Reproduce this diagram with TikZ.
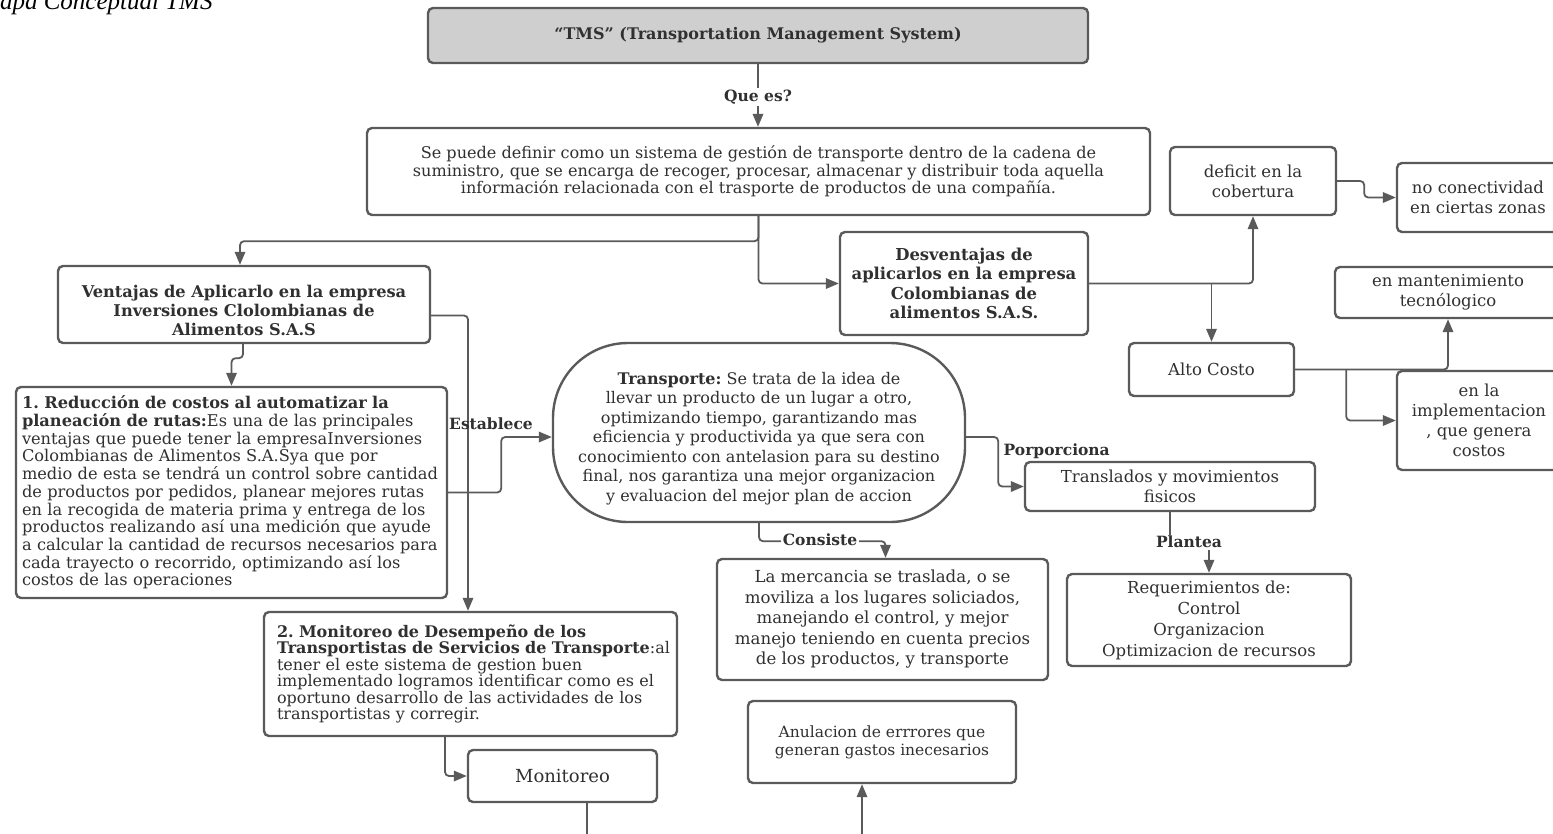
\documentclass[tikz,border=0pt]{standalone}
\usepackage{fontspec}
\setmainfont{DejaVu Serif}
\newfontfamily\capfont{Liberation Serif}
\usetikzlibrary{arrows.meta,calc}
\definecolor{edge}{HTML}{5A5A5A}
\definecolor{ink}{HTML}{303030}
\definecolor{headfill}{HTML}{CFCFCF}
\newcommand{\fs}[2]{\fontsize{#1}{#2}\selectfont}
% extra room above the first line, pushes a centred block down a little
\newcommand{\toppad}[1]{\rule{0pt}{#1}}
\frenchspacing

\begin{document}
\begin{tikzpicture}[x=1pt,y=-1pt,
  box/.style={draw=edge, line width=2.4pt, rounded corners=5pt, fill=white,
              text=ink, inner sep=0pt, align=center},
  conn/.style={draw=edge, line width=1.8pt, rounded corners=4pt,
               -{Triangle[length=13pt,width=10.5pt]}},
  plain/.style={draw=edge, line width=1.8pt, rounded corners=4pt},
  lbl/.style={font=\bfseries\fs{15.5}{18}, text=ink, inner sep=1.5pt}
]
\clip (0,0) rectangle (1553,833);
\useasboundingbox (0,0) rectangle (1553,833);

% caption at the top left
\node[anchor=base west, inner sep=0pt, font=\capfont\itshape\fs{25}{29}] (caption)
  at (-21,9.5) {Mapa Conceptual TMS};

% ---------- nodes ----------
\node[box, fill=headfill, minimum width=660pt, minimum height=55pt,
      font=\bfseries\fs{16}{19}] (title) at (758,35.5)
  {“TMS” (Transportation Management System)};

\node[box, minimum width=783pt, minimum height=87pt, font=\fs{16.1}{17.5}] (def)
  at (758.5,171.5)
  {Se puede definir como un sistema de gestión de transporte dentro de la cadena de\\
   suministro, que se encarga de recoger, procesar, almacenar y distribuir toda aquella\\
   información relacionada con el trasporte de productos de una compañía.};

\node[box, minimum width=372pt, minimum height=77pt, font=\bfseries\fs{16.2}{19}] (vent)
  at (244,304.5)
  {\toppad{24pt}Ventajas de Aplicarlo en la empresa\\Inversiones Clolombianas de\\Alimentos S.A.S};

\node[box, minimum width=431pt, minimum height=211pt, text width=419pt, align=left,
      font=\fs{16.2}{17.7}] (box1) at (231.5,492.5)
  {\textbf{1. Reducción de costos al automatizar la}\\
   \textbf{planeación de rutas:}Es una de las principales\\
   ventajas que puede tener la empresaInversiones\\
   Colombianas de Alimentos S.A.Sya que por\\
   medio de esta se tendrá un control sobre cantidad\\
   de productos por pedidos, planear mejores rutas\\
   en la recogida de materia prima y entrega de los\\
   productos realizando así una medición que ayude\\
   a calcular la cantidad de recursos necesarios para\\
   cada trayecto o recorrido, optimizando así los\\
   costos de las operaciones};

\node[box, minimum width=413pt, minimum height=124pt, text width=387pt, align=left,
      font=\fs{16}{16.5}] (box2) at (470.5,674)
  {\mbox{\textbf{2. Monitoreo de Desempeño de los}}\\
   \mbox{\textbf{Transportistas de Servicios de Transporte}:al}\\
   \mbox{tener el este sistema de gestion buen}\\
   \mbox{implementado logramos identificar como es el}\\
   \mbox{oportuno desarrollo de las actividades de los}\\
   \mbox{transportistas y corregir.}};

\node[box, minimum width=189pt, minimum height=52pt, font=\fs{18}{21}] (mon)
  at (562.5,776) {Monitoreo};

\node[box, rounded corners=75pt, minimum width=412pt, minimum height=179pt,
      font=\fs{16}{19.5}] (trans) at (759,432.5)
  {\toppad{24.5pt}\textbf{Transporte:} Se trata de la idea de\\
   llevar un producto de un lugar a otro,\\
   optimizando tiempo, garantizando mas\\
   eficiencia y productivida ya que sera con\\
   conocimiento con antelasion para su destino\\
   final, nos garantiza una mejor organizacion\\
   y evaluacion del mejor plan de accion};

\node[box, minimum width=248pt, minimum height=103pt, font=\bfseries\fs{16.4}{19.3}] (desv)
  at (964,283.5)
  {Desventajas de\\aplicarlos en la empresa\\Colombianas de\\alimentos S.A.S.};

\node[box, minimum width=166pt, minimum height=68pt, font=\fs{16.5}{20}] (deficit)
  at (1253,181) {deficit en la\\cobertura};

\node[box, minimum width=162pt, minimum height=69pt, font=\fs{16.5}{20}] (noconec)
  at (1478,197.5) {no conectividad\\en ciertas zonas};

\node[box, minimum width=226pt, minimum height=51pt, font=\fs{16.5}{20}] (mant)
  at (1448,292.5) {en mantenimiento\\tecnólogico};

\node[box, minimum width=165pt, minimum height=53pt, font=\fs{16.5}{20}] (alto)
  at (1211.5,369.5) {Alto Costo};

\node[box, minimum width=164pt, minimum height=99pt, font=\fs{16.5}{20}] (impl)
  at (1479,420.5) {en la\\implementacion\\, que genera\\costos};

\node[box, minimum width=290pt, minimum height=49pt, font=\fs{16.5}{20}] (transl)
  at (1170,486.5) {Translados y movimientos\\fisicos};

\node[box, minimum width=284pt, minimum height=92pt, font=\fs{16.5}{21}] (req)
  at (1209,620)
  {Requerimientos de:\\Control\\Organizacion\\Optimizacion de recursos};

\node[box, minimum width=331pt, minimum height=121pt, font=\fs{16.6}{20.5}] (merc)
  at (882.5,619.5)
  {La mercancia se traslada, o se\\moviliza a los lugares soliciados,\\
   manejando el control, y mejor\\manejo teniendo en cuenta precios\\
   de los productos, y transporte};

\node[box, minimum width=268pt, minimum height=82pt, font=\fs{15.5}{18}] (anul)
  at (882,742) {Anulacion de errrores que\\generan gastos inecesarios};

% loose ends running off the lower edge
\coordinate (monEnd) at (587,845);
\coordinate (anulStart) at (862,845);

% ---------- connectors ----------
\draw[conn] (title.south) -- (title.south |- def.north);
\draw[conn] (def.south) -- ++(0,25) -| ($(vent.north)+(-4,0)$);
\draw[conn] (def.south) |- (desv.west);
\draw[conn] ($(vent.south)+(-1,0)$) -- ++(0,14) -| (box1.north);
\draw[conn] ($(vent.east)+(0,11)$) -| ($(box2.north)+(-2.5,0)$);
\draw[conn] (box1.east) -- ++(53,0) |- ($(trans.west)+(0,4.5)$);
\draw[conn] ($(box2.south)+(-25.5,0)$) |- (mon.west);
\draw[plain] ($(mon.south)+(24.5,0)$) -- (monEnd);
\draw[conn] (anulStart) -- (anulStart |- anul.south);
\draw[conn] ($(trans.east)+(0,4.5)$) -- ++(32,0) |- (transl.west);
\draw[conn] (trans.south) -- ++(0,18) -| ($(merc.north)+(3,0)$);
\draw[conn] (transl.south) -- ++(0,31) -| (req.north);
\draw[conn] (desv.east) -| (deficit.south);
\draw[conn] (desv.east -| alto.north) -- (alto.north);
\draw[conn] (deficit.east) -- ++(27,0) |- (noconec.west);
\draw[conn] (alto.east) -| (mant.south);
\draw[conn] ($(alto.east)+(51,0)$) |- (impl.west);

% ---------- connector labels ----------
\node[lbl, fill=white] (qlbl) at (758,97) {Que es?};
\node[lbl] (elbl) at (491,424) {Establece};
\node[lbl, anchor=west] (plbl) at (1002,451) {Porporciona};
\node[lbl, fill=white] (clbl) at (820,540) {Consiste};
\node[lbl, fill=white] (tlbl) at (1189,542) {Plantea};
\end{tikzpicture}
\end{document}
